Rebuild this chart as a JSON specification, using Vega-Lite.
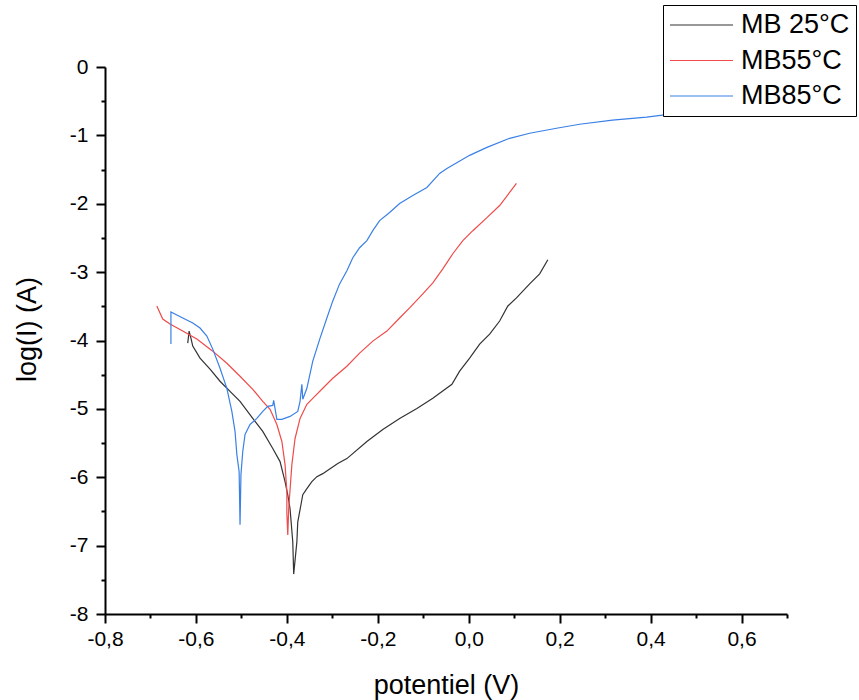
{
  "$schema": "https://vega.github.io/schema/vega-lite/v6.json",
  "width": 682,
  "height": 547,
  "autosize": {"type": "none"},
  "padding": {"left": 105, "top": 67, "right": 72, "bottom": 86},
  "background": "white",
  "config": {
    "view": {"stroke": null},
    "font": "Liberation Sans",
    "axis": {
      "grid": false,
      "domainColor": "black",
      "domainWidth": 2,
      "tickColor": "black",
      "tickWidth": 2,
      "labelColor": "black",
      "titleColor": "black",
      "labelFont": "Liberation Sans",
      "titleFont": "Liberation Sans",
      "labelFontSize": 21,
      "titleFontSize": 27,
      "titleFontWeight": "normal",
      "labelOverlap": false,
      "labelBound": false,
      "labelFlush": false
    }
  },
  "data": {
    "values": [
      {"s": "MB 25°C", "i": 0, "v": -0.618, "l": -4.038},
      {"s": "MB 25°C", "i": 1, "v": -0.615, "l": -3.862},
      {"s": "MB 25°C", "i": 2, "v": -0.611, "l": -3.965},
      {"s": "MB 25°C", "i": 3, "v": -0.607, "l": -4.082},
      {"s": "MB 25°C", "i": 4, "v": -0.591, "l": -4.258},
      {"s": "MB 25°C", "i": 5, "v": -0.569, "l": -4.420},
      {"s": "MB 25°C", "i": 6, "v": -0.547, "l": -4.596},
      {"s": "MB 25°C", "i": 7, "v": -0.525, "l": -4.743},
      {"s": "MB 25°C", "i": 8, "v": -0.503, "l": -4.890},
      {"s": "MB 25°C", "i": 9, "v": -0.475, "l": -5.140},
      {"s": "MB 25°C", "i": 10, "v": -0.453, "l": -5.330},
      {"s": "MB 25°C", "i": 11, "v": -0.431, "l": -5.580},
      {"s": "MB 25°C", "i": 12, "v": -0.415, "l": -5.771},
      {"s": "MB 25°C", "i": 13, "v": -0.404, "l": -6.065},
      {"s": "MB 25°C", "i": 14, "v": -0.398, "l": -6.256},
      {"s": "MB 25°C", "i": 15, "v": -0.393, "l": -6.461},
      {"s": "MB 25°C", "i": 16, "v": -0.387, "l": -6.946},
      {"s": "MB 25°C", "i": 17, "v": -0.385, "l": -7.416},
      {"s": "MB 25°C", "i": 18, "v": -0.378, "l": -6.946},
      {"s": "MB 25°C", "i": 19, "v": -0.376, "l": -6.652},
      {"s": "MB 25°C", "i": 20, "v": -0.369, "l": -6.402},
      {"s": "MB 25°C", "i": 21, "v": -0.365, "l": -6.256},
      {"s": "MB 25°C", "i": 22, "v": -0.356, "l": -6.167},
      {"s": "MB 25°C", "i": 23, "v": -0.345, "l": -6.065},
      {"s": "MB 25°C", "i": 24, "v": -0.334, "l": -5.991},
      {"s": "MB 25°C", "i": 25, "v": -0.321, "l": -5.947},
      {"s": "MB 25°C", "i": 26, "v": -0.305, "l": -5.874},
      {"s": "MB 25°C", "i": 27, "v": -0.288, "l": -5.800},
      {"s": "MB 25°C", "i": 28, "v": -0.268, "l": -5.727},
      {"s": "MB 25°C", "i": 29, "v": -0.224, "l": -5.477},
      {"s": "MB 25°C", "i": 30, "v": -0.189, "l": -5.301},
      {"s": "MB 25°C", "i": 31, "v": -0.152, "l": -5.140},
      {"s": "MB 25°C", "i": 32, "v": -0.114, "l": -4.993},
      {"s": "MB 25°C", "i": 33, "v": -0.079, "l": -4.846},
      {"s": "MB 25°C", "i": 34, "v": -0.037, "l": -4.640},
      {"s": "MB 25°C", "i": 35, "v": -0.020, "l": -4.449},
      {"s": "MB 25°C", "i": 36, "v": 0.002, "l": -4.258},
      {"s": "MB 25°C", "i": 37, "v": 0.024, "l": -4.053},
      {"s": "MB 25°C", "i": 38, "v": 0.046, "l": -3.906},
      {"s": "MB 25°C", "i": 39, "v": 0.068, "l": -3.715},
      {"s": "MB 25°C", "i": 40, "v": 0.086, "l": -3.495},
      {"s": "MB 25°C", "i": 41, "v": 0.105, "l": -3.377},
      {"s": "MB 25°C", "i": 42, "v": 0.134, "l": -3.172},
      {"s": "MB 25°C", "i": 43, "v": 0.156, "l": -3.025},
      {"s": "MB 25°C", "i": 44, "v": 0.174, "l": -2.819},

      {"s": "MB55°C", "i": 0, "v": -0.686, "l": -3.495},
      {"s": "MB55°C", "i": 1, "v": -0.673, "l": -3.686},
      {"s": "MB55°C", "i": 2, "v": -0.657, "l": -3.759},
      {"s": "MB55°C", "i": 3, "v": -0.629, "l": -3.862},
      {"s": "MB55°C", "i": 4, "v": -0.598, "l": -3.979},
      {"s": "MB55°C", "i": 5, "v": -0.563, "l": -4.156},
      {"s": "MB55°C", "i": 6, "v": -0.532, "l": -4.332},
      {"s": "MB55°C", "i": 7, "v": -0.503, "l": -4.523},
      {"s": "MB55°C", "i": 8, "v": -0.475, "l": -4.714},
      {"s": "MB55°C", "i": 9, "v": -0.453, "l": -4.890},
      {"s": "MB55°C", "i": 10, "v": -0.437, "l": -5.007},
      {"s": "MB55°C", "i": 11, "v": -0.422, "l": -5.228},
      {"s": "MB55°C", "i": 12, "v": -0.411, "l": -5.477},
      {"s": "MB55°C", "i": 13, "v": -0.404, "l": -5.815},
      {"s": "MB55°C", "i": 14, "v": -0.400, "l": -6.211},
      {"s": "MB55°C", "i": 15, "v": -0.400, "l": -6.535},
      {"s": "MB55°C", "i": 16, "v": -0.398, "l": -6.843},
      {"s": "MB55°C", "i": 17, "v": -0.396, "l": -6.461},
      {"s": "MB55°C", "i": 18, "v": -0.389, "l": -5.815},
      {"s": "MB55°C", "i": 19, "v": -0.382, "l": -5.433},
      {"s": "MB55°C", "i": 20, "v": -0.371, "l": -5.140},
      {"s": "MB55°C", "i": 21, "v": -0.356, "l": -4.934},
      {"s": "MB55°C", "i": 22, "v": -0.343, "l": -4.846},
      {"s": "MB55°C", "i": 23, "v": -0.321, "l": -4.699},
      {"s": "MB55°C", "i": 24, "v": -0.299, "l": -4.552},
      {"s": "MB55°C", "i": 25, "v": -0.268, "l": -4.376},
      {"s": "MB55°C", "i": 26, "v": -0.240, "l": -4.185},
      {"s": "MB55°C", "i": 27, "v": -0.211, "l": -4.009},
      {"s": "MB55°C", "i": 28, "v": -0.180, "l": -3.862},
      {"s": "MB55°C", "i": 29, "v": -0.152, "l": -3.671},
      {"s": "MB55°C", "i": 30, "v": -0.130, "l": -3.524},
      {"s": "MB55°C", "i": 31, "v": -0.101, "l": -3.319},
      {"s": "MB55°C", "i": 32, "v": -0.079, "l": -3.157},
      {"s": "MB55°C", "i": 33, "v": -0.057, "l": -2.952},
      {"s": "MB55°C", "i": 34, "v": -0.035, "l": -2.731},
      {"s": "MB55°C", "i": 35, "v": -0.013, "l": -2.540},
      {"s": "MB55°C", "i": 36, "v": 0.009, "l": -2.394},
      {"s": "MB55°C", "i": 37, "v": 0.040, "l": -2.203},
      {"s": "MB55°C", "i": 38, "v": 0.068, "l": -2.026},
      {"s": "MB55°C", "i": 39, "v": 0.105, "l": -1.703},

      {"s": "MB85°C", "i": 0, "v": -0.655, "l": -4.053},
      {"s": "MB85°C", "i": 1, "v": -0.655, "l": -3.583},
      {"s": "MB85°C", "i": 2, "v": -0.629, "l": -3.671},
      {"s": "MB85°C", "i": 3, "v": -0.607, "l": -3.744},
      {"s": "MB85°C", "i": 4, "v": -0.591, "l": -3.818},
      {"s": "MB85°C", "i": 5, "v": -0.576, "l": -3.935},
      {"s": "MB85°C", "i": 6, "v": -0.563, "l": -4.126},
      {"s": "MB85°C", "i": 7, "v": -0.547, "l": -4.405},
      {"s": "MB85°C", "i": 8, "v": -0.532, "l": -4.699},
      {"s": "MB85°C", "i": 9, "v": -0.521, "l": -5.037},
      {"s": "MB85°C", "i": 10, "v": -0.514, "l": -5.330},
      {"s": "MB85°C", "i": 11, "v": -0.510, "l": -5.668},
      {"s": "MB85°C", "i": 12, "v": -0.505, "l": -5.918},
      {"s": "MB85°C", "i": 13, "v": -0.503, "l": -6.696},
      {"s": "MB85°C", "i": 14, "v": -0.501, "l": -5.962},
      {"s": "MB85°C", "i": 15, "v": -0.497, "l": -5.624},
      {"s": "MB85°C", "i": 16, "v": -0.492, "l": -5.374},
      {"s": "MB85°C", "i": 17, "v": -0.481, "l": -5.228},
      {"s": "MB85°C", "i": 18, "v": -0.466, "l": -5.140},
      {"s": "MB85°C", "i": 19, "v": -0.453, "l": -5.037},
      {"s": "MB85°C", "i": 20, "v": -0.442, "l": -4.963},
      {"s": "MB85°C", "i": 21, "v": -0.431, "l": -4.949},
      {"s": "MB85°C", "i": 22, "v": -0.429, "l": -4.875},
      {"s": "MB85°C", "i": 23, "v": -0.422, "l": -5.154},
      {"s": "MB85°C", "i": 24, "v": -0.411, "l": -5.154},
      {"s": "MB85°C", "i": 25, "v": -0.393, "l": -5.110},
      {"s": "MB85°C", "i": 26, "v": -0.376, "l": -5.037},
      {"s": "MB85°C", "i": 27, "v": -0.371, "l": -4.890},
      {"s": "MB85°C", "i": 28, "v": -0.367, "l": -4.640},
      {"s": "MB85°C", "i": 29, "v": -0.365, "l": -4.860},
      {"s": "MB85°C", "i": 30, "v": -0.356, "l": -4.699},
      {"s": "MB85°C", "i": 31, "v": -0.343, "l": -4.302},
      {"s": "MB85°C", "i": 32, "v": -0.327, "l": -3.965},
      {"s": "MB85°C", "i": 33, "v": -0.312, "l": -3.671},
      {"s": "MB85°C", "i": 34, "v": -0.299, "l": -3.421},
      {"s": "MB85°C", "i": 35, "v": -0.284, "l": -3.172},
      {"s": "MB85°C", "i": 36, "v": -0.268, "l": -2.981},
      {"s": "MB85°C", "i": 37, "v": -0.255, "l": -2.790},
      {"s": "MB85°C", "i": 38, "v": -0.240, "l": -2.643},
      {"s": "MB85°C", "i": 39, "v": -0.224, "l": -2.540},
      {"s": "MB85°C", "i": 40, "v": -0.211, "l": -2.394},
      {"s": "MB85°C", "i": 41, "v": -0.196, "l": -2.247},
      {"s": "MB85°C", "i": 42, "v": -0.174, "l": -2.129},
      {"s": "MB85°C", "i": 43, "v": -0.152, "l": -1.997},
      {"s": "MB85°C", "i": 44, "v": -0.123, "l": -1.880},
      {"s": "MB85°C", "i": 45, "v": -0.092, "l": -1.762},
      {"s": "MB85°C", "i": 46, "v": -0.064, "l": -1.557},
      {"s": "MB85°C", "i": 47, "v": -0.048, "l": -1.483},
      {"s": "MB85°C", "i": 48, "v": 0.002, "l": -1.292},
      {"s": "MB85°C", "i": 49, "v": 0.040, "l": -1.175},
      {"s": "MB85°C", "i": 50, "v": 0.090, "l": -1.043},
      {"s": "MB85°C", "i": 51, "v": 0.134, "l": -0.969},
      {"s": "MB85°C", "i": 52, "v": 0.193, "l": -0.896},
      {"s": "MB85°C", "i": 53, "v": 0.244, "l": -0.837},
      {"s": "MB85°C", "i": 54, "v": 0.316, "l": -0.778},
      {"s": "MB85°C", "i": 55, "v": 0.391, "l": -0.734},
      {"s": "MB85°C", "i": 56, "v": 0.426, "l": -0.705},
      {"s": "MB85°C", "i": 57, "v": 0.508, "l": -0.661}
    ]
  },
  "mark": {"type": "line", "strokeWidth": 1.2, "clip": false},
  "encoding": {
    "x": {
      "field": "v",
      "type": "quantitative",
      "scale": {"domain": [-0.8, 0.7], "nice": false, "zero": false},
      "axis": {
        "title": "potentiel (V)",
        "values": [-0.8, -0.7, -0.6, -0.5, -0.4, -0.3, -0.2, -0.1, 0, 0.1, 0.2, 0.3, 0.4, 0.5, 0.6, 0.7],
        "labelExpr": "abs(round(datum.value*10)) % 2 == 1 ? '' : (datum.value < -0.001 ? '-' + replace(format(-datum.value, '.1f'), '.', ',') : replace(format(abs(datum.value), '.1f'), '.', ','))",
        "tickSize": {"condition": {"test": "abs(round(datum.value*10)) % 2 == 1", "value": 4}, "value": 9},
        "labelPadding": 5,
        "titleY": 71,
        "titleBaseline": "middle"
      }
    },
    "y": {
      "field": "l",
      "type": "quantitative",
      "scale": {"domain": [-8, 0], "nice": false, "zero": false},
      "axis": {
        "title": "log(I) (A)",
        "values": [0, -0.5, -1, -1.5, -2, -2.5, -3, -3.5, -4, -4.5, -5, -5.5, -6, -6.5, -7, -7.5, -8],
        "labelExpr": "abs(datum.value % 1) > 0.01 ? '' : (datum.value < -0.01 ? '-' + format(-datum.value, 'd') : '0')",
        "tickSize": {"condition": {"test": "abs(datum.value % 1) > 0.01", "value": 4}, "value": 9},
        "labelPadding": 8,
        "titleX": -78,
        "titleY": 262,
        "titleAngle": 270,
        "titleAlign": "center",
        "titleBaseline": "middle"
      }
    },
    "order": {"field": "i", "type": "quantitative"},
    "color": {
      "field": "s",
      "type": "nominal",
      "scale": {"domain": ["MB 25°C", "MB55°C", "MB85°C"], "range": ["#333333", "#f04a4a", "#3a80e6"]},
      "legend": {
        "title": null,
        "orient": "none",
        "legendX": 558,
        "legendY": -62,
        "strokeColor": "black",
        "fillColor": "white",
        "padding": 6,
        "symbolType": "stroke",
        "symbolSize": 3969,
        "symbolStrokeWidth": 1.2,
        "clipHeight": 28,
        "labelFontSize": 27,
        "labelFont": "Liberation Sans",
        "labelColor": "black",
        "labelOffset": 7,
        "rowPadding": 7.5,
        "labelLimit": 300
      }
    }
  }
}
